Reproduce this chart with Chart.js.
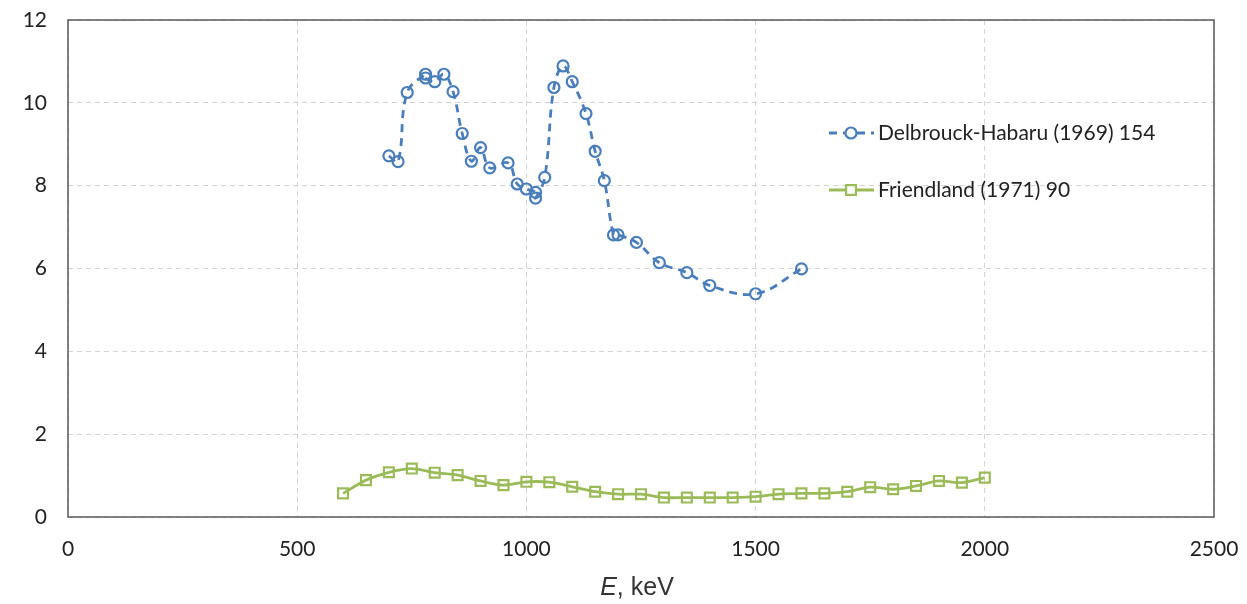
<!DOCTYPE html>
<html>
<head>
<meta charset="utf-8">
<script src="https://cdn.jsdelivr.net/npm/chart.js@4/dist/chart.umd.min.js"></script>
<style>
  html, body { margin: 0; padding: 0; background: #fff; }
  #wrap { width: 1247px; height: 604px; }
</style>
</head>
<body>
<div id="wrap"><canvas id="chart" width="1247" height="604"></canvas></div>
<script>
// Delbrouck-Habaru (1969) 154
const delbE = [700, 720, 740, 780, 780, 800, 820, 840, 860, 880, 900, 920, 960, 980, 1000, 1020, 1020, 1040, 1060, 1080, 1100, 1130, 1150, 1170, 1190, 1200, 1240, 1290, 1350, 1400, 1500, 1600]
const delbV = [8.72, 8.58, 10.25, 10.69, 10.6, 10.51, 10.69, 10.27, 9.26, 8.59, 8.92, 8.43, 8.55, 8.04, 7.92, 7.84, 7.70, 8.2, 10.37, 10.89, 10.51, 9.74, 8.83, 8.12, 6.81, 6.81, 6.63, 6.14, 5.9, 5.59, 5.39, 5.99]

// Friendland (1971) 90
const friE = [600, 650, 700, 750, 800, 850, 900, 950, 1000, 1050, 1100, 1150, 1200, 1250, 1300, 1350, 1400, 1450, 1500, 1550, 1600, 1650, 1700, 1750, 1800, 1850, 1900, 1950, 2000]
const friV = [0.57, 0.89, 1.08, 1.17, 1.07, 1.01, 0.87, 0.77, 0.85, 0.84, 0.73, 0.61, 0.55, 0.55, 0.47, 0.47, 0.47, 0.47, 0.49, 0.55, 0.57, 0.57, 0.61, 0.72, 0.67, 0.75, 0.87, 0.83, 0.95]

const seriesNames = ['Delbrouck-Habaru (1969) 154', 'Friendland (1971) 90']
const xTicks = [0, 500, 1000, 1500, 2000, 2500]
const yTicks = [0, 2, 4, 6, 8, 10, 12]

const BLUE = '#4a7ebb'
const GREEN = '#9bbb59'
const tickFont = { family: 'Lato', size: 21 }

function toPoints(xs, ys) {
    return xs.map((x, i) => ({ x: x, y: ys[i] }))
}

// box round the plot, custom legend and the axis title with italic E
const extras = {
    id: 'extras',
    afterDraw(chart) {
        const ctx = chart.ctx
        const a = chart.chartArea
        ctx.save()
        ctx.strokeStyle = '#595959'
        ctx.lineWidth = 1.5
        ctx.strokeRect(a.left, a.top, a.right - a.left, a.bottom - a.top)

        // legend
        const rows = [
            { y: 133, color: BLUE, dash: [8, 6], style: 'circle', r: 5.5 },
            { y: 190, color: GREEN, dash: [], style: 'rect', r: 7 }
        ]
        rows.forEach((row, i) => {
            ctx.strokeStyle = row.color
            ctx.lineWidth = 2.8
            ctx.setLineDash(row.dash)
            ctx.beginPath()
            ctx.moveTo(829, row.y)
            ctx.lineTo(874, row.y)
            ctx.stroke()
            ctx.setLineDash([])
            ctx.lineWidth = 2.2
            ctx.fillStyle = '#fff'
            Chart.helpers.drawPoint(ctx, { pointStyle: row.style, radius: row.r, borderWidth: 2.2 }, 851, row.y)
            ctx.fillStyle = '#222'
            ctx.font = '21px Lato'
            ctx.textAlign = 'left'
            ctx.textBaseline = 'middle'
            ctx.fillText(seriesNames[i], 878, row.y)
        })

        // x axis title
        ctx.font = 'italic 25px "Liberation Sans"'
        const w1 = ctx.measureText('E').width
        ctx.font = '25px "Liberation Sans"'
        const w2 = ctx.measureText(', keV').width
        const x0 = 637 - (w1 + w2) / 2
        ctx.fillStyle = '#333'
        ctx.textAlign = 'left'
        ctx.textBaseline = 'middle'
        ctx.font = 'italic 25px "Liberation Sans"'
        ctx.fillText('E', x0, 588)
        ctx.font = '25px "Liberation Sans"'
        ctx.fillText(', keV', x0 + w1, 588)
        ctx.restore()
    }
}

new Chart(document.querySelector('#chart').getContext('2d'), {
    type: 'line',
    data: {
        datasets: [
            {
                label: seriesNames[0],
                data: toPoints(delbE, delbV),
                borderColor: BLUE,
                borderWidth: 2.8,
                borderDash: [8, 6],
                tension: 0.4,
                pointStyle: 'circle',
                pointRadius: 5.5,
                pointBorderWidth: 2.2,
                pointBorderColor: BLUE,
                pointBackgroundColor: 'rgba(255,255,255,0)'
            },
            {
                label: seriesNames[1],
                data: toPoints(friE, friV),
                borderColor: GREEN,
                borderWidth: 2.8,
                tension: 0.3,
                pointStyle: 'rect',
                pointRadius: 7,
                pointBorderWidth: 2.2,
                pointBorderColor: GREEN,
                pointBackgroundColor: 'rgba(255,255,255,0)'
            }
        ]
    },
    options: {
        responsive: false,
        animation: false,
        layout: { padding: { top: 20, right: 33, left: 0, bottom: 0 } },
        plugins: {
            legend: { display: false },
            tooltip: { enabled: false }
        },
        scales: {
            x: {
                type: 'linear',
                min: 0,
                max: 2500,
                afterFit(scale) {
                    scale.height = 87
                    scale.paddingLeft = 0
                    scale.paddingRight = 0
                },
                afterBuildTicks(scale) { scale.ticks = xTicks.map(v => ({ value: v })) },
                ticks: { font: tickFont, color: '#222', padding: 20, maxRotation: 0, callback: v => String(v) },
                grid: { color: '#d4d4d4', lineWidth: 1, drawTicks: false },
                border: { display: false, dash: [5, 4] }
            },
            y: {
                min: 0,
                max: 12,
                afterFit(scale) {
                    scale.width = 68
                    scale.paddingTop = 0
                    scale.paddingBottom = 0
                },
                afterBuildTicks(scale) { scale.ticks = yTicks.map(v => ({ value: v })) },
                ticks: { font: tickFont, color: '#222', padding: 21, callback: v => String(v) },
                grid: { color: '#d4d4d4', lineWidth: 1, drawTicks: false },
                border: { display: false, dash: [5, 4] }
            }
        }
    },
    plugins: [extras]
})
</script>
</body>
</html>
